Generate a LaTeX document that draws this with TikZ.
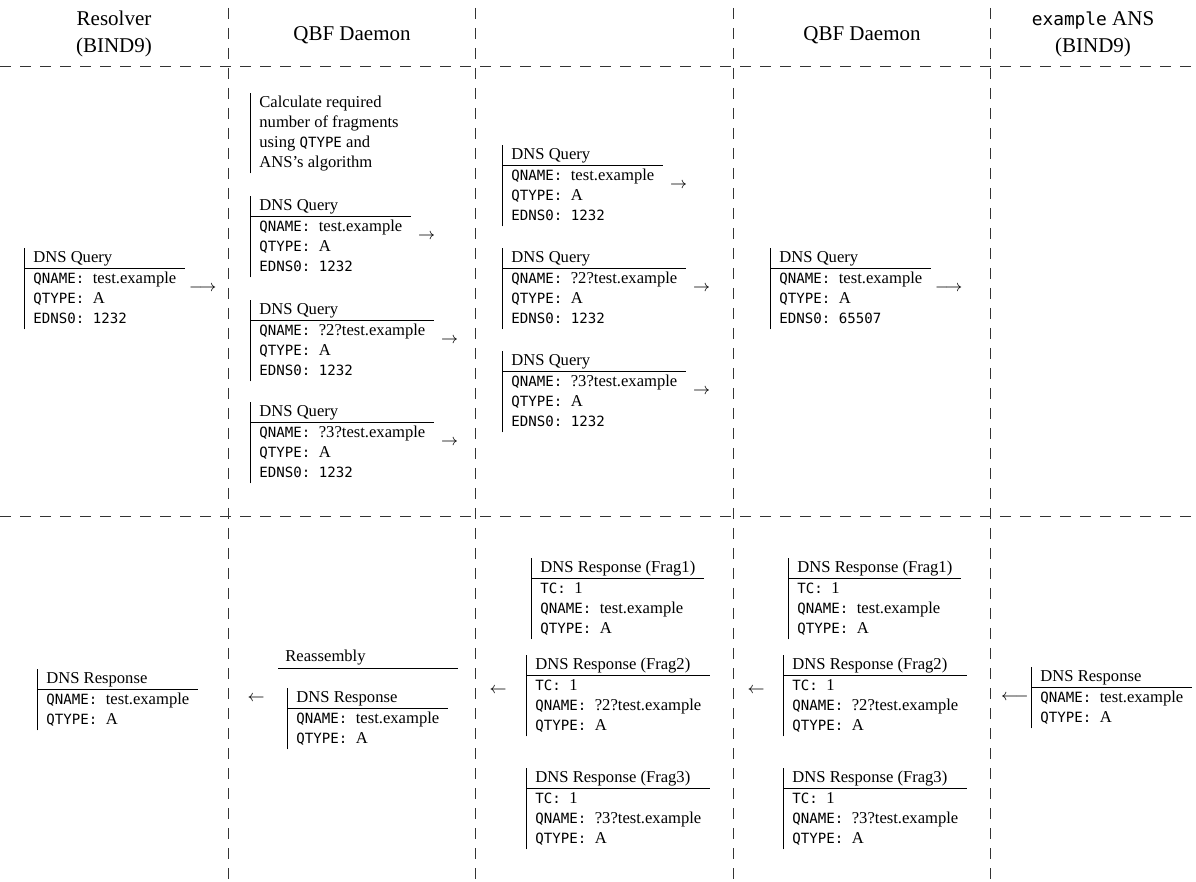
\documentclass[tikz,border=0pt]{standalone}
\usepackage{fontspec}
\setmainfont{Liberation Serif}
\setmonofont{DejaVu Sans Mono}[Scale=0.85]
\usepackage{tikz}
\usetikzlibrary{positioning}

\newcommand{\pktfont}{\fontsize{8.3}{10}\selectfont}
\newcommand{\headfont}{\fontsize{10.5}{13.5}\selectfont}
\setlength{\tabcolsep}{4.5pt}
\setlength{\arrayrulewidth}{0.5pt}
% packet boxes: header, rule, fields
\newcommand{\pkt}[2]{\begin{tabular}{|l}#1\\\hline#2\end{tabular}}
\newcommand{\qrypkt}[2]{\pkt{DNS Query}{\texttt{QNAME: }#1\\\texttt{QTYPE: }A\\\texttt{EDNS0: #2}}}
\newcommand{\fragpkt}[2]{\pkt{DNS Response (Frag#1)}{\texttt{TC: }1\\\texttt{QNAME: }#2\\\texttt{QTYPE: }A}}
\newcommand{\resppkt}{\pkt{DNS Response}{\texttt{QNAME: }test.example\\\texttt{QTYPE: }A}}

\begin{document}
\begin{tikzpicture}[
        x=0.5pt, y=-0.5pt,
        font=\pktfont,
        colhead/.style={font=\headfont, align=center, inner sep=0pt},
        packet/.style={anchor=north west, inner sep=0pt},
        arrtxt/.style={inner sep=1pt},
        lane/.style={dash pattern=on 5.5pt off 4.5pt, line width=0.5pt, black!80}
    ]
        \useasboundingbox (0,0) rectangle (1196,882);

        % Lanes and column heads
        \draw[lane] (0,67) -- (1196,67);
        \draw[lane] (0,517) -- (1196,517);
        \foreach \x in {228,475,733,990}
            \draw[lane] (\x,8) -- (\x,882);
        \node[colhead] (h_res) at (114,34) {Resolver\\(BIND9)};
        \node[colhead] (h_qbf1) at (352,35) {QBF Daemon};
        \node[colhead] (h_qbf2) at (862,35) {QBF Daemon};
        \node[colhead] (h_ans) at (1093,34) {\texttt{example} ANS\\(BIND9)};

        % Queries: resolver -> QBF -> network -> QBF -> ANS
        \node[packet] (res_q) at (24,248) {\qrypkt{test.example}{1232}};
        \node[packet] (qbf1_calc) at (250,93) {\begin{tabular}{|l}Calculate required\\number of fragments\\using \texttt{QTYPE} and\\ANS's algorithm\end{tabular}};
        \node[packet] (qbf1_q1) at (250,196) {\qrypkt{test.example}{1232}};
        \node[packet] (qbf1_q2) at (250,300) {\qrypkt{?2?test.example}{1232}};
        \node[packet] (qbf1_q3) at (250,402) {\qrypkt{?3?test.example}{1232}};
        \node[packet] (mid_q1) at (502,145) {\qrypkt{test.example}{1232}};
        \node[packet] (mid_q2) at (502,248) {\qrypkt{?2?test.example}{1232}};
        \node[packet] (mid_q3) at (502,351) {\qrypkt{?3?test.example}{1232}};
        \node[packet] (qbf2_q) at (770,248) {\qrypkt{test.example}{65507}};

        \node[arrtxt, right=0.5pt of res_q] (res_a) {$\longrightarrow$};
        \node[arrtxt, right=2pt of qbf1_q1] (qbf1_a1) {$\rightarrow$};
        \node[arrtxt, right=2pt of qbf1_q2] (qbf1_a2) {$\rightarrow$};
        \node[arrtxt, right=2pt of qbf1_q3] (qbf1_a3) {$\rightarrow$};
        \node[arrtxt, right=2pt of mid_q1] (mid_a1) {$\rightarrow$};
        \node[arrtxt, right=2pt of mid_q2] (mid_a2) {$\rightarrow$};
        \node[arrtxt, right=2pt of mid_q3] (mid_a3) {$\rightarrow$};
        \node[arrtxt, right=0.5pt of qbf2_q] (qbf2_a) {$\longrightarrow$};

        % Responses: ANS -> QBF -> network -> QBF (reassembly) -> resolver
        \node[packet] (res_r) at (37,669) {\resppkt};
        \node[packet] (qbf1_r) at (287,688) {\resppkt};
        \node[packet, anchor=south west, inner xsep=3.5pt, inner ysep=2pt] (qbf1_reasm) at (278,669) {Reassembly};
        \coordinate (reasm_end) at ([xshift=4.5pt]qbf1_r.east);
        \draw[line width=0.5pt] (qbf1_reasm.south west) -- (qbf1_reasm.south west -| reasm_end);
        \node[packet] (mid_f1) at (531,558) {\fragpkt{1}{test.example}};
        \node[packet] (mid_f2) at (526,655) {\fragpkt{2}{?2?test.example}};
        \node[packet] (mid_f3) at (526,768) {\fragpkt{3}{?3?test.example}};
        \node[packet] (qbf2_f1) at (788,558) {\fragpkt{1}{test.example}};
        \node[packet] (qbf2_f2) at (783,655) {\fragpkt{2}{?2?test.example}};
        \node[packet] (qbf2_f3) at (783,768) {\fragpkt{3}{?3?test.example}};
        \node[packet] (ans_r) at (1031,667) {\resppkt};

        \node[arrtxt] (qbf1_ra) at (256,698) {$\leftarrow$};
        \node[arrtxt] (mid_ra) at (498,690) {$\leftarrow$};
        \node[arrtxt] (qbf2_ra) at (756,690) {$\leftarrow$};
        \node[arrtxt, left=0pt of ans_r] (ans_ra) {$\longleftarrow$};
    \end{tikzpicture}
\end{document}
